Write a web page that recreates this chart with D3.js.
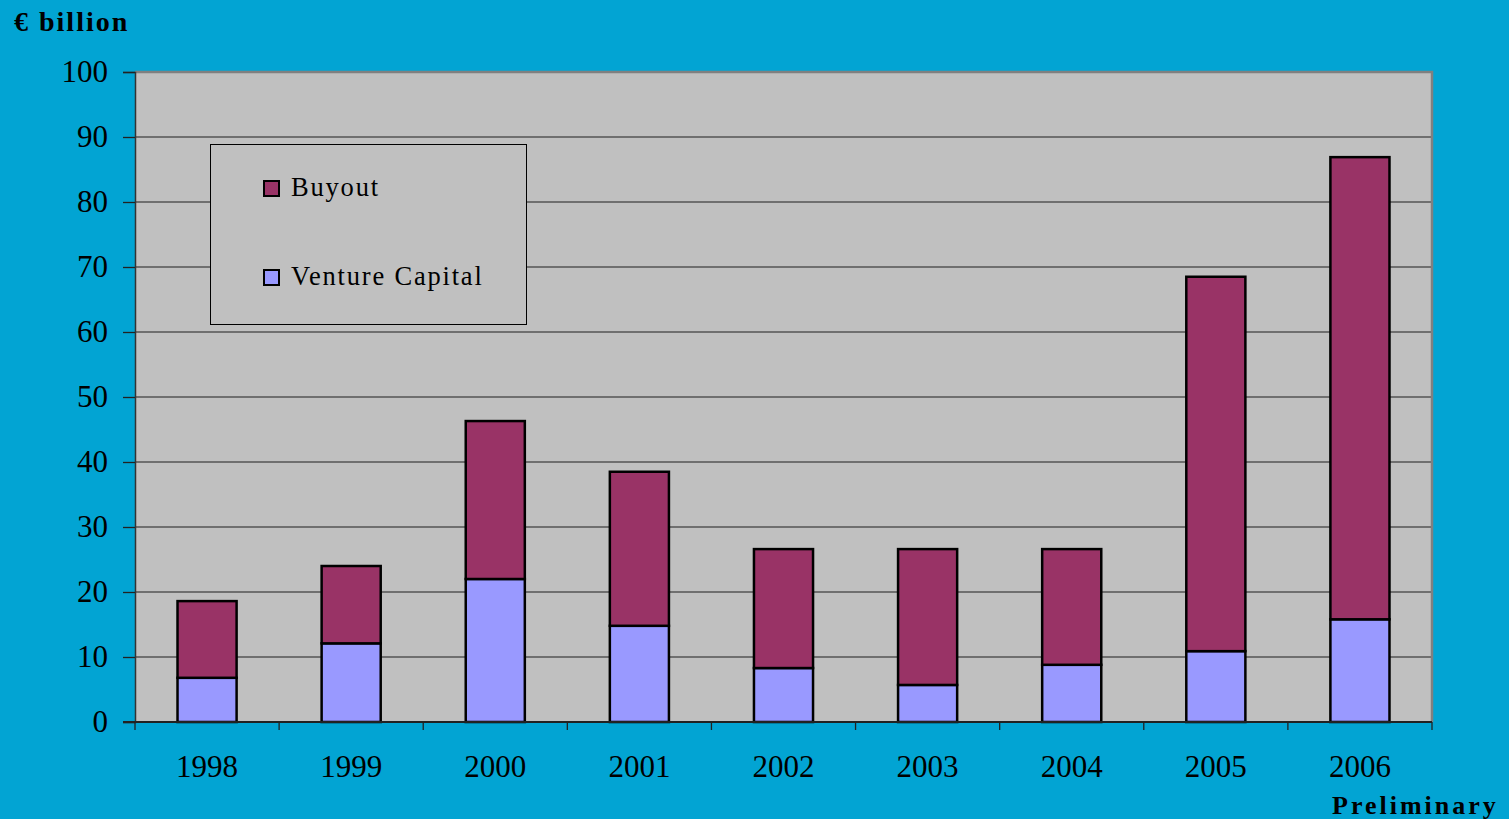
<!DOCTYPE html>
<html>
<head>
<meta charset="utf-8">
<script src="https://cdn.jsdelivr.net/npm/d3@7"></script>
<style>
  body { margin: 0; background: #02a4d3; }
  svg { display: block; font-family: "Liberation Serif", "Times New Roman", serif; }
</style>
</head>
<body>
<svg id="canvas" width="1509" height="819"></svg>
<script>
let years = ['1998', '1999', '2000', '2001', '2002', '2003', '2004', '2005', '2006']
let ventureCapital = [6.8, 12.1, 22.0, 14.8, 8.3, 5.7, 8.8, 10.9, 15.8]
let buyout = [11.8, 11.9, 24.3, 23.7, 18.3, 20.9, 17.8, 57.6, 71.1]
let seriesNames = ['Buyout', 'Venture Capital']
let yTicks = [0, 10, 20, 30, 40, 50, 60, 70, 80, 90, 100]

let colors = { 'Buyout': '#993366', 'Venture Capital': '#9999ff' }

let canvas = d3.select('#canvas')
let plotLeft = 135, plotRight = 1432, plotTop = 72, plotBottom = 722

let x = d3.scaleBand().domain(years).range([plotLeft, plotRight]).paddingInner(0.59).paddingOuter(0.295)
let y = d3.scaleLinear().domain([0, 100]).range([plotBottom, plotTop])

// fondo del area de trazado
canvas.append('rect')
    .attr('x', plotLeft).attr('y', plotTop)
    .attr('width', plotRight - plotLeft).attr('height', plotBottom - plotTop)
    .attr('fill', '#c0c0c0')

// lineas de cuadricula
canvas.selectAll('line.grid')
    .data(yTicks.filter(d => d > 0 && d < 100))
    .enter()
    .append('line')
    .attr('class', 'grid')
    .attr('x1', plotLeft).attr('x2', plotRight)
    .attr('y1', d => y(d)).attr('y2', d => y(d))
    .attr('stroke', '#555555')
    .attr('stroke-width', 1.3)

// borde gris
canvas.append('path')
    .attr('d', `M${plotLeft},${plotTop}H${plotRight}V${plotBottom}`)
    .attr('fill', 'none')
    .attr('stroke', '#808080')
    .attr('stroke-width', 2.5)

// leyenda (tapa la cuadricula)
let legend = canvas.append('g')
legend.append('rect')
    .attr('x', 210.5).attr('y', 144.5)
    .attr('width', 316).attr('height', 180)
    .attr('fill', '#c0c0c0')
    .attr('stroke', '#000')
    .attr('stroke-width', 1)
legend.selectAll('g.item')
    .data(seriesNames)
    .enter()
    .append('g')
    .attr('class', 'item')
    .attr('transform', (d, i) => `translate(264, ${181 + i * 89})`)
    .each(function (d) {
        let g = d3.select(this)
        g.append('rect')
            .attr('width', 15).attr('height', 15)
            .attr('fill', colors[d])
            .attr('stroke', '#000')
            .attr('stroke-width', 2)
        g.append('text')
            .attr('x', 27).attr('y', 15)
            .attr('font-size', 26.5)
            .attr('letter-spacing', 1.8)
            .attr('fill', '#000')
            .text(d)
    })

// barras apiladas
let table = years.map((yr, i) => ({ year: yr, 'Venture Capital': ventureCapital[i], 'Buyout': buyout[i] }))
let stacked = d3.stack().keys(['Venture Capital', 'Buyout'])(table)

canvas.selectAll('g.series')
    .data(stacked)
    .enter()
    .append('g')
    .attr('class', 'series')
    .attr('fill', d => colors[d.key])
    .selectAll('rect')
    .data(d => d)
    .enter()
    .append('rect')
    .attr('x', d => x(d.data.year))
    .attr('width', x.bandwidth())
    .attr('y', d => y(d[1]))
    .attr('height', d => y(d[0]) - y(d[1]))
    .attr('stroke', '#000')
    .attr('stroke-width', 2.5)

// eje y
let yAxis = canvas.append('g')
    .attr('transform', `translate(${plotLeft},0)`)
    .call(d3.axisLeft(y).tickValues(yTicks).tickSize(12).tickPadding(15))
yAxis.select('.domain').attr('stroke', '#333').attr('stroke-width', 1.5)
yAxis.selectAll('.tick line').attr('stroke', '#222').attr('stroke-width', 1.3)
yAxis.selectAll('.tick text')
    .attr('font-size', 31).attr('font-family', '"Liberation Serif", serif')
    .attr('fill', '#000').attr('dy', '0.3em')

// eje x con marcas entre categorias
let xAxis = canvas.append('g')
    .attr('transform', `translate(0,${plotBottom})`)
xAxis.append('line')
    .attr('x1', plotLeft - 12).attr('x2', plotRight)
    .attr('stroke', '#222').attr('stroke-width', 2)
let step = x.step()
xAxis.selectAll('line.tk')
    .data(d3.range(years.length + 1))
    .enter()
    .append('line')
    .attr('class', 'tk')
    .attr('x1', i => plotLeft + i * step).attr('x2', i => plotLeft + i * step)
    .attr('y1', 0).attr('y2', 8)
    .attr('stroke', '#222').attr('stroke-width', 1.3)
xAxis.selectAll('text')
    .data(years)
    .enter()
    .append('text')
    .attr('x', d => x(d) + x.bandwidth() / 2)
    .attr('y', 55)
    .attr('text-anchor', 'middle')
    .attr('font-size', 31)
    .attr('fill', '#000')
    .text(d => d)

// textos
canvas.append('text')
    .attr('x', 14).attr('y', 31)
    .attr('font-size', 28).attr('font-weight', 'bold')
    .attr('letter-spacing', 2)
    .attr('fill', '#000')
    .text('€ billion')

canvas.append('text')
    .attr('x', 1332).attr('y', 814)
    .attr('font-size', 26).attr('font-weight', 'bold')
    .attr('letter-spacing', 3)
    .attr('fill', '#000')
    .text('Preliminary')
</script>
</body>
</html>
